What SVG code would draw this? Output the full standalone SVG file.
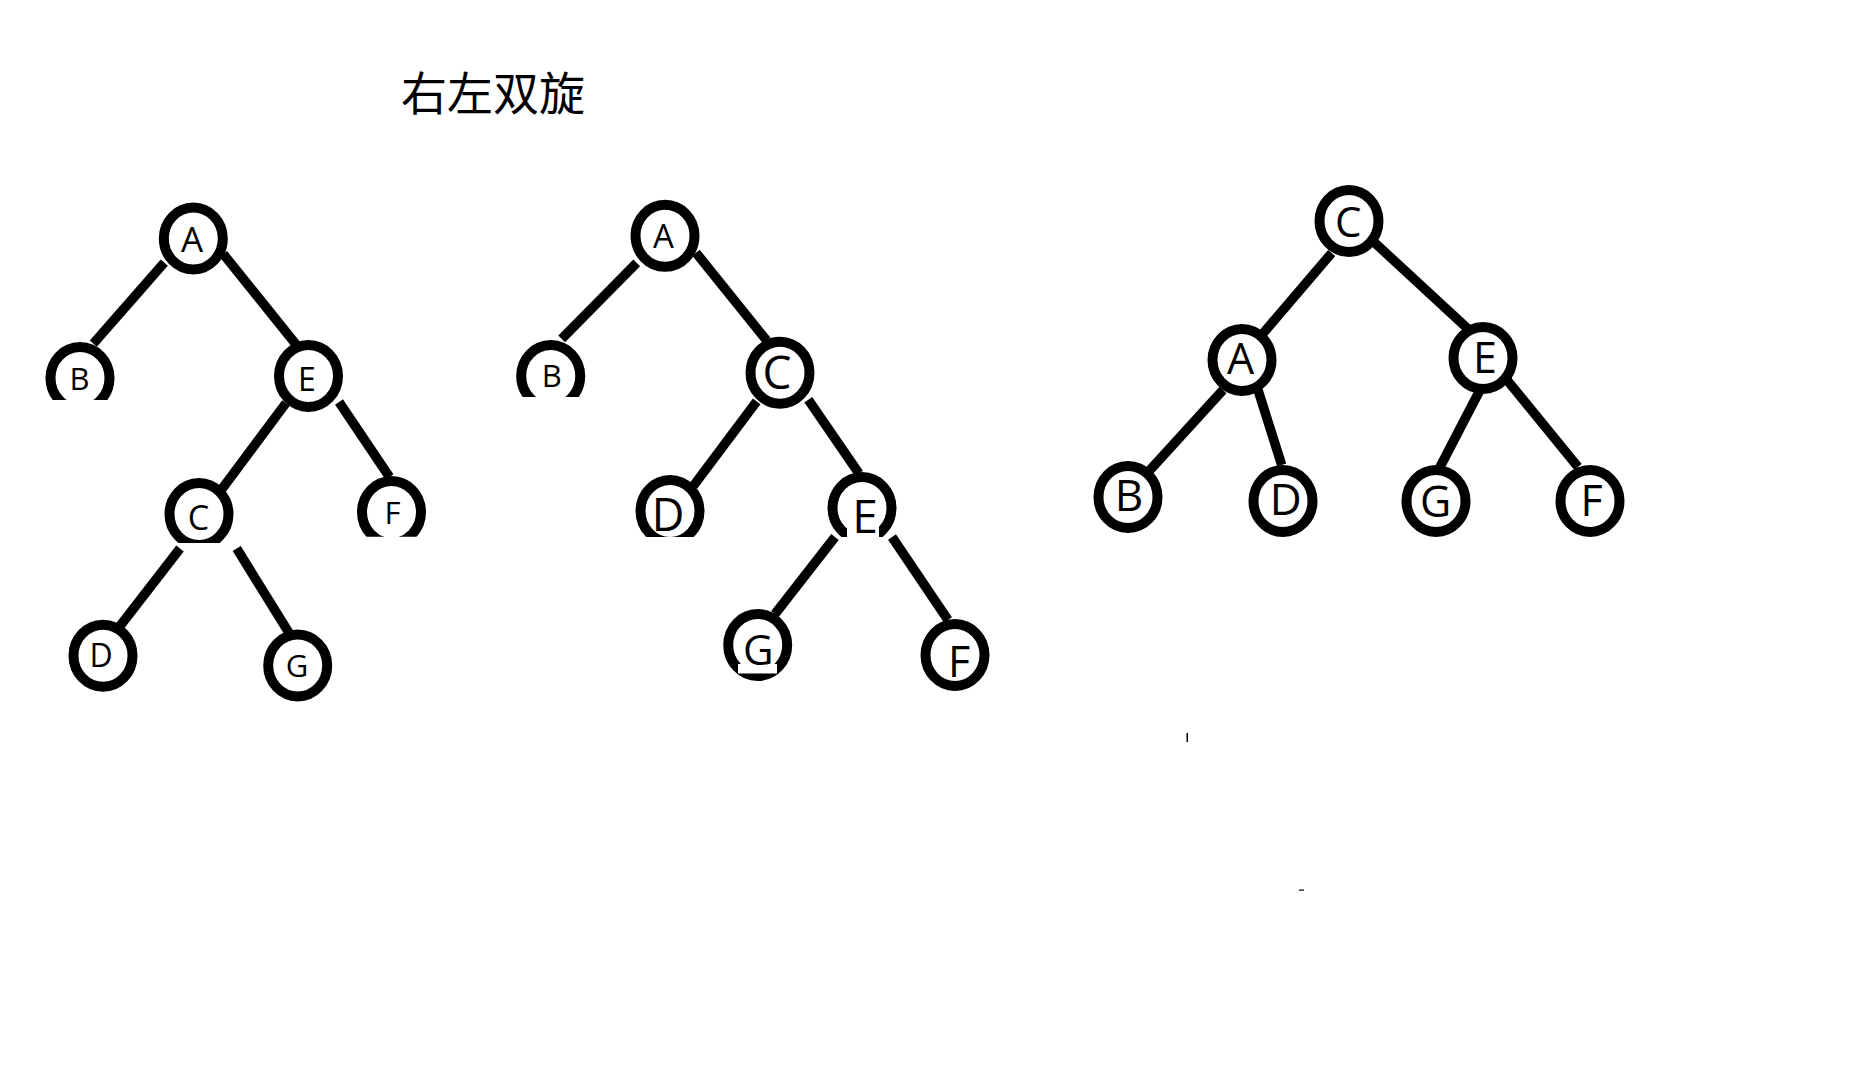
<svg xmlns="http://www.w3.org/2000/svg" width="1858" height="1067" viewBox="0 0 1858 1067">
<style>
.n ellipse{fill:#fff;stroke:#000;stroke-width:10}
.t{font-family:"Open Sans","DejaVu Sans",sans-serif;text-anchor:middle;fill:#000}
#edges line{stroke:#000;stroke-width:9.5;stroke-linecap:butt}
.title{font-family:"Noto Sans CJK SC","Noto Sans CJK JP",sans-serif;font-size:46px;fill:#000}
</style>
<defs>
<clipPath id="c1b"><rect x="0" y="0" width="1858" height="400"/></clipPath>
<clipPath id="c1c"><rect x="0" y="0" width="1858" height="543"/></clipPath>
<clipPath id="c1f"><rect x="0" y="0" width="1858" height="536.7"/></clipPath>
<clipPath id="c2b"><rect x="0" y="0" width="1858" height="397"/></clipPath>
<clipPath id="c2d"><rect x="0" y="0" width="1858" height="537"/></clipPath>
<clipPath id="c2e"><rect x="0" y="0" width="1858" height="527"/><rect x="0" y="527" width="847" height="10"/><rect x="879" y="527" width="979" height="10"/></clipPath>
</defs>
<rect width="1858" height="1067" fill="#fff"/>
<text class="title" x="401" y="110">右左双旋</text>

<g id="edges">
<line x1="164.3" y1="262.6" x2="93.3" y2="343.6"/>
<line x1="223.3" y1="254" x2="296.7" y2="345.3"/>
<line x1="286" y1="403" x2="220" y2="491.6"/>
<line x1="339" y1="402" x2="389.5" y2="477"/>
<line x1="180" y1="548.5" x2="120" y2="626"/>
<line x1="236.7" y1="548.5" x2="290" y2="634.5"/>

<line x1="636.7" y1="262.8" x2="561.7" y2="338.9"/>
<line x1="696" y1="252.7" x2="766.7" y2="340.6"/>
<line x1="756.7" y1="401.4" x2="693.3" y2="486"/>
<line x1="808.3" y1="399.7" x2="859" y2="473.5"/>
<line x1="835" y1="537" x2="775" y2="614"/>
<line x1="892" y1="537" x2="948" y2="620"/>

<line x1="1331.7" y1="253" x2="1261.7" y2="335"/>
<line x1="1375" y1="243" x2="1467" y2="328"/>
<line x1="1223" y1="390" x2="1150" y2="470"/>
<line x1="1258" y1="390" x2="1281.7" y2="465"/>
<line x1="1480" y1="390" x2="1440" y2="467"/>
<line x1="1507" y1="380" x2="1578" y2="467"/>
</g>

<g id="t1-A" class="n"><ellipse cx="193.3" cy="238.5" rx="29.5" ry="31"/><text class="t" x="192" y="252" font-size="35">A</text></g>
<g id="t1-B" class="n"><ellipse cx="80" cy="378" rx="29.5" ry="31" clip-path="url(#c1b)"/><text class="t" x="79.5" y="390" font-size="31">B</text></g>
<g id="t1-E" class="n"><ellipse cx="308.5" cy="376" rx="29.5" ry="31"/><text class="t" x="307" y="391" font-size="32">E</text></g>
<g id="t1-C" class="n"><ellipse cx="199" cy="514" rx="29.5" ry="31" clip-path="url(#c1c)"/><text class="t" x="198.5" y="530" font-size="34">C</text></g>
<g id="t1-F" class="n"><ellipse cx="391.5" cy="512" rx="29.5" ry="31" clip-path="url(#c1f)"/><text class="t" x="392.5" y="524" font-size="31">F</text></g>
<g id="t1-D" class="n"><ellipse cx="103" cy="655.7" rx="29.5" ry="31"/><text class="t" x="101" y="666.7" font-size="32">D</text></g>
<g id="t1-G" class="n"><ellipse cx="297.7" cy="665.5" rx="29.5" ry="31"/><text class="t" x="297" y="677" font-size="31">G</text></g>

<g id="t2-A" class="n"><ellipse cx="665" cy="235.8" rx="29.5" ry="31"/><text class="t" x="663.5" y="247.6" font-size="33">A</text></g>
<g id="t2-B" class="n"><ellipse cx="550.7" cy="376" rx="29.5" ry="31" clip-path="url(#c2b)"/><text class="t" x="551.7" y="387" font-size="31">B</text></g>
<g id="t2-C" class="n"><ellipse cx="780" cy="372.7" rx="29.5" ry="31"/><text class="t" x="777" y="389" font-size="46">C</text></g>
<g id="t2-D" class="n"><ellipse cx="670" cy="511" rx="29.5" ry="31" clip-path="url(#c2d)"/><text class="t" x="668" y="531" font-size="45">D</text></g>
<g id="t2-E" class="n"><ellipse cx="862" cy="508" rx="29.5" ry="31" clip-path="url(#c2e)"/><text class="t" x="865" y="533" font-size="46">E</text></g>
<g id="t2-G" class="n"><ellipse cx="757.7" cy="645" rx="29.5" ry="31"/><rect x="738" y="664" width="39" height="9.5" fill="#fff"/><text class="t" x="758.3" y="665" font-size="42">G</text></g>
<g id="t2-F" class="n"><ellipse cx="955" cy="655" rx="29.5" ry="31"/><text class="t" x="959" y="677" font-size="43">F</text></g>

<g id="t3-C" class="n"><ellipse cx="1349" cy="221" rx="29.5" ry="31"/><text class="t" x="1348.3" y="237" font-size="42">C</text></g>
<g id="t3-A" class="n"><ellipse cx="1242" cy="360" rx="29.5" ry="31"/><text class="t" x="1240.7" y="374" font-size="43">A</text></g>
<g id="t3-E" class="n"><ellipse cx="1483" cy="358" rx="29.5" ry="31"/><text class="t" x="1485" y="373" font-size="43">E</text></g>
<g id="t3-B" class="n"><ellipse cx="1128" cy="497" rx="29.5" ry="31"/><text class="t" x="1129" y="511" font-size="44">B</text></g>
<g id="t3-D" class="n"><ellipse cx="1283" cy="501" rx="29.5" ry="31"/><text class="t" x="1285.7" y="515" font-size="44">D</text></g>
<g id="t3-G" class="n"><ellipse cx="1436" cy="501" rx="29.5" ry="31"/><text class="t" x="1435.7" y="517" font-size="43">G</text></g>
<g id="t3-F" class="n"><ellipse cx="1590" cy="501" rx="29.5" ry="31"/><text class="t" x="1591.7" y="516" font-size="43">F</text></g>

<rect x="1186.5" y="733" width="1.5" height="9" fill="#000"/>
<rect x="1299" y="889.5" width="5" height="1.2" fill="#000"/>
</svg>
